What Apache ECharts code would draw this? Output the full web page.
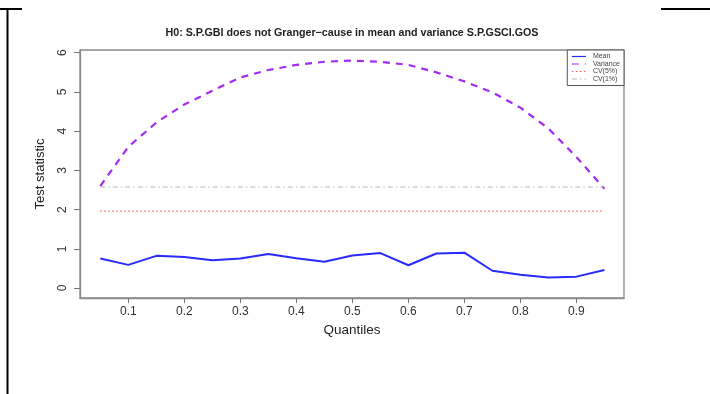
<!DOCTYPE html>
<html>
<head>
<meta charset="utf-8">
<script src="https://cdn.jsdelivr.net/npm/echarts@6/dist/echarts.min.js"></script>
<style>
  html, body { margin: 0; padding: 0; background: #fff; }
  #chart { width: 710px; height: 394px; }
</style>
</head>
<body>
<div id="chart"></div>
<script>
  // quantile grid and test statistics
  const quantiles = [0.05, 0.1, 0.15, 0.2, 0.25, 0.3, 0.35, 0.4, 0.45, 0.5,
                     0.55, 0.6, 0.65, 0.7, 0.75, 0.8, 0.85, 0.9, 0.95];
  const meanStat = [0.75, 0.59, 0.82, 0.79, 0.71, 0.75, 0.87, 0.76, 0.67, 0.83,
                    0.89, 0.58, 0.88, 0.90, 0.44, 0.34, 0.27, 0.29, 0.46];
  const varianceStat = [2.60, 3.60, 4.22, 4.68, 5.03, 5.37, 5.56, 5.69, 5.77, 5.80,
                        5.77, 5.69, 5.50, 5.27, 4.99, 4.60, 4.07, 3.34, 2.53];
  const cv5 = 1.96;
  const cv1 = 2.576;
  const xTicks = [0.1, 0.2, 0.3, 0.4, 0.5, 0.6, 0.7, 0.8, 0.9];
  const yTicks = [0, 1, 2, 3, 4, 5, 6];

  const font = 'Liberation Sans, Arial, Helvetica, sans-serif';

  function pairs(vals) {
    return quantiles.map((q, i) => [q, vals[i]]);
  }
  function flat(v) {
    return quantiles.map(q => [q, v]);
  }

  let myChart = echarts.init(document.getElementById('chart'));
  myChart.setOption({
    animation: false,
    backgroundColor: '#fff',
    title: {
      text: 'H0: S.P.GBI does not Granger\u2212cause in mean and variance S.P.GSCI.GOS',
      left: 352,
      textAlign: 'center',
      top: 28,
      padding: 0,
      textStyle: { fontFamily: font, fontSize: 10.7, fontWeight: 'bold', color: '#222' }
    },
    legend: {
      orient: 'vertical',
      right: 86,
      top: 50,
      padding: [3, 4, 3, 4],
      itemWidth: 14,
      itemHeight: 6,
      itemGap: 0.5,
      borderColor: '#555',
      borderWidth: 1,
      backgroundColor: '#fff',
      selectedMode: false,
      itemStyle: { opacity: 0 },
      lineStyle: { width: 1.2 },
      textStyle: { fontFamily: font, fontSize: 7, color: '#444', lineHeight: 6.5, padding: [0, 0, 0, 2] },
      data: ['Mean', 'Variance', 'CV(5%)', 'CV(1%)']
    },
    grid: {
      left: 80, right: 86, top: 50, bottom: 96,
      show: true,
      borderColor: '#8a8a8a',
      borderWidth: 1.3
    },
    xAxis: {
      type: 'value',
      position: 'bottom',
      min: 0.01375,
      max: 0.985,
      name: 'Quantiles',
      nameLocation: 'middle',
      nameGap: 17,
      nameTextStyle: { fontFamily: font, fontSize: 13.5, color: '#222' },
      axisLine: { show: true, onZero: false, lineStyle: { color: '#8a8a8a', width: 1.3 } },
      axisTick: { show: true, inside: false, length: 5, customValues: xTicks, lineStyle: { color: '#777' } },
      axisLabel: { customValues: xTicks, fontFamily: font, fontSize: 12, color: '#333', margin: 8 },
      splitLine: { show: false }
    },
    yAxis: {
      type: 'value',
      position: 'left',
      min: -0.255,
      max: 6.07,
      name: 'Test statistic',
      nameLocation: 'middle',
      nameGap: 33,
      nameTextStyle: { fontFamily: font, fontSize: 13, color: '#222' },
      axisLine: { show: true, onZero: false, lineStyle: { color: '#8a8a8a', width: 1.3 } },
      axisTick: { show: true, inside: false, length: 6, customValues: yTicks, lineStyle: { color: '#777' } },
      axisLabel: { customValues: yTicks, rotate: 90, fontFamily: font, fontSize: 12, color: '#333', margin: 11 },
      splitLine: { show: false }
    },
    series: [
      {
        name: 'Mean', type: 'line', symbol: 'none',
        data: pairs(meanStat),
        lineStyle: { color: '#2a2aff', width: 2 },
        itemStyle: { color: '#2a2aff' }
      },
      {
        name: 'Variance', type: 'line', symbol: 'none',
        data: pairs(varianceStat),
        lineStyle: { color: '#a22cf2', width: 2.2, type: [7, 6] },
        itemStyle: { color: '#a22cf2' }
      },
      {
        name: 'CV(5%)', type: 'line', symbol: 'none',
        data: flat(cv5),
        lineStyle: { color: '#ff5a5a', width: 1.2, type: [1.5, 2.5] },
        itemStyle: { color: '#ff5a5a' }
      },
      {
        name: 'CV(1%)', type: 'line', symbol: 'none',
        data: flat(cv1),
        lineStyle: { color: '#b8b8b8', width: 1.2, type: [5, 3, 1.5, 3] },
        itemStyle: { color: '#b8b8b8' }
      }
    ],
    graphic: [
      // page borders around the figure
      { type: 'line', shape: { x1: 7.5, y1: 9, x2: 7.5, y2: 394 }, style: { stroke: '#000', lineWidth: 2 } },
      { type: 'line', shape: { x1: 0, y1: 9, x2: 22, y2: 9 }, style: { stroke: '#000', lineWidth: 2 } },
      { type: 'line', shape: { x1: 661, y1: 9, x2: 710, y2: 9 }, style: { stroke: '#000', lineWidth: 2 } }
    ]
  });
</script>
</body>
</html>
